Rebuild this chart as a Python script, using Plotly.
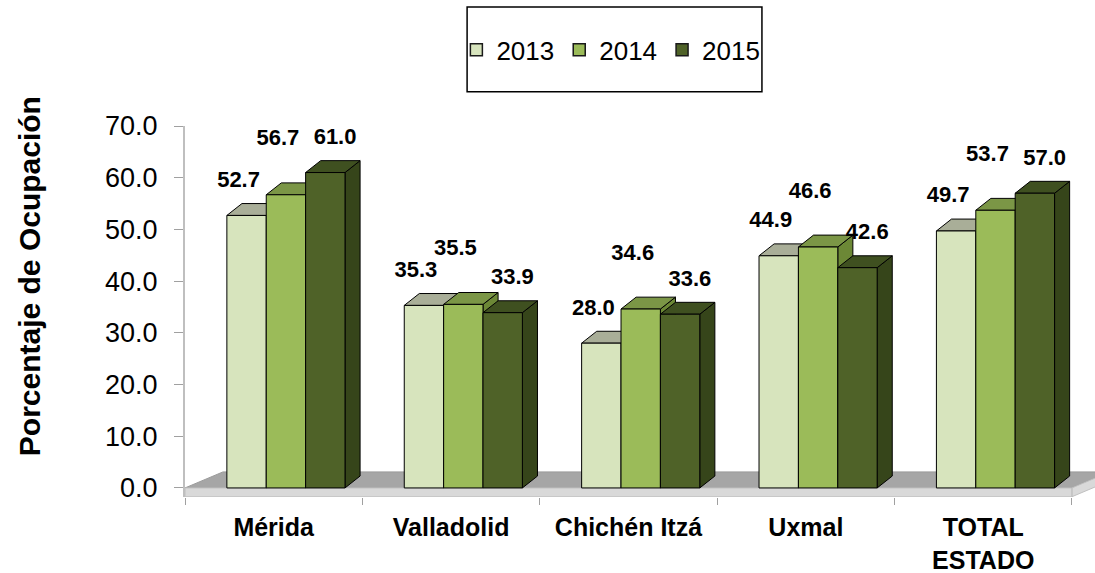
import plotly.graph_objects as go

# ---------------- data ----------------
categories = ["Mérida", "Valladolid", "Chichén Itzá", "Uxmal", "TOTAL<br>ESTADO"]
years = ["2013", "2014", "2015"]
values_2013 = [52.7, 35.3, 28.0, 44.9, 49.7]
values_2014 = [56.7, 35.5, 34.6, 46.6, 53.7]
values_2015 = [61.0, 33.9, 33.6, 42.6, 57.0]
y_ticks = [0, 10, 20, 30, 40, 50, 60, 70]
y_title = "Porcentaje de Ocupación"

series = [values_2013, values_2014, values_2015]

# ---------------- styles ----------------
front_colors = ["#d7e4bd", "#9bbb59", "#4f6228"]
top_colors = ["#a9ae98", "#7b9646", "#3f5020"]
side_colors = ["#aab88f", "#6c8836", "#36451a"]
label_lift = [0.0, 4.0, 0.0]          # extra label lift per series (y units)
label_nudge = [-0.045, -0.045, 0.055]  # label x nudge per series (x units)
FONT = "Liberation Sans, Arial, sans-serif"

bar_w = 0.222        # front width of one bar (category units)
group_shift = 0.069  # group centre offset from category centre
dx, dy = 0.085, 2.3  # bar depth projection (x units, y units)
fdx, fdy = 0.214, 3.1  # floor depth projection
slab = -1.7
y_min, y_max = -1.75, 70
x_min, x_max = -0.5, 4.63
n = len(categories)


def polys(list_of_pts):
    xs, ys = [], []
    for pts in list_of_pts:
        for (px, py) in pts:
            xs.append(px)
            ys.append(py)
        xs.append(pts[0][0]); ys.append(pts[0][1])
        xs.append(None); ys.append(None)
    return xs, ys


fig = go.Figure()

# floor
left, right = -0.5, n - 0.5
fx, fy = polys([[(left, 0), (right, 0), (right + fdx, fdy), (left + fdx, fdy)]])
fig.add_trace(go.Scatter(x=fx, y=fy, fill="toself", fillcolor="#a6a6a6", mode="lines",
                         line=dict(color="#9a9a9a", width=1), hoverinfo="skip", showlegend=False))
sx, sy = polys([[(left, 0), (right, 0), (right, slab), (left, slab)],
                [(right, 0), (right + fdx, fdy), (right + fdx, fdy + slab), (right, slab)]])
fig.add_trace(go.Scatter(x=sx, y=sy, fill="toself", fillcolor="#d9d9d9", mode="lines",
                         line=dict(color="#c0c0c0", width=1), hoverinfo="skip", showlegend=False))

# 3D bars
label_x, label_y, label_t = [], [], []
for j, vals in enumerate(series):
    sides, tops, fronts = [], [], []
    for i, v in enumerate(vals):
        x0 = i + group_shift + (j - 1) * bar_w - bar_w / 2
        x1 = x0 + bar_w
        fronts.append([(x0, 0), (x1, 0), (x1, v), (x0, v)])
        tops.append([(x0, v), (x1, v), (x1 + dx, v + dy), (x0 + dx, v + dy)])
        sides.append([(x1, 0), (x1 + dx, dy), (x1 + dx, v + dy), (x1, v)])
        label_x.append((x0 + x1) / 2 + label_nudge[j])
        label_y.append(v + 6.6 + label_lift[j])
        label_t.append(f"{v:.1f}")
    for pts, col in ((sides, side_colors[j]), (tops, top_colors[j]), (fronts, front_colors[j])):
        px, py = polys(pts)
        fig.add_trace(go.Scatter(x=px, y=py, fill="toself", fillcolor=col, mode="lines",
                                 line=dict(color="#000000", width=1), hoverinfo="skip",
                                 showlegend=False))

# data labels
fig.add_trace(go.Scatter(x=label_x, y=label_y, text=label_t, mode="text",
                         textposition="middle center",
                         textfont=dict(family=FONT, size=22, color="#000000", weight="bold"),
                         hoverinfo="skip", showlegend=False, cliponaxis=False))

# legend entries
for j, yr in enumerate(years):
    fig.add_trace(go.Bar(x=[None], y=[None], name=yr,
                         marker=dict(color=front_colors[j], line=dict(color="#1a1a1a", width=1.5))))

fig.update_layout(
    width=1095, height=573,
    margin=dict(l=185, r=0, t=126, b=76, autoexpand=False),
    paper_bgcolor="white", plot_bgcolor="white",
    font=dict(family=FONT, color="#000000"),
    showlegend=True,
    legend=dict(orientation="h", x=0.468, xanchor="center", y=1.205, yanchor="middle",
                font=dict(size=26, family=FONT), bgcolor="rgba(0,0,0,0)", traceorder="normal",
                itemclick=False),
    shapes=[dict(type="rect", xref="paper", yref="paper", x0=0.310, x1=0.634, y0=1.092, y1=1.321,
                 line=dict(color="#000000", width=1.5), fillcolor="rgba(0,0,0,0)")],
    annotations=[dict(text=f"<b>{y_title}</b>", xref="paper", yref="paper", x=-0.170, y=0.596,
                      xanchor="center", yanchor="middle", textangle=-90, showarrow=False,
                      font=dict(size=30, family=FONT, color="#000000"))],
)

fig.update_xaxes(
    range=[x_min, x_max], tickmode="array", tickvals=list(range(n)),
    ticktext=[f"<b>{c}</b>" for c in categories], ticks="", showgrid=False, zeroline=False,
    showline=False, tickfont=dict(size=25, family=FONT), ticklabelstandoff=13,
    automargin=False,
    minor=dict(tickmode="array", tickvals=[i - 0.5 for i in range(n + 1)], ticks="outside",
               ticklen=7, tickcolor="#a0a0a0", tickwidth=1, showgrid=False),
    fixedrange=True,
)
fig.update_yaxes(
    range=[y_min, y_max], tickmode="array", tickvals=y_ticks,
    ticktext=[f"{t:.1f}" for t in y_ticks], ticks="outside", ticklen=9, tickcolor="#a0a0a0",
    showline=True, linecolor="#bfbfbf", linewidth=2, showgrid=False, zeroline=False,
    tickfont=dict(size=27, family=FONT), ticklabelstandoff=11, automargin=False,
    fixedrange=True,
)

fig.write_html(
    "out.html",
    config={"displayModeBar": False},
    post_script="document.body.style.margin='0';document.body.style.overflow='hidden';",
)
